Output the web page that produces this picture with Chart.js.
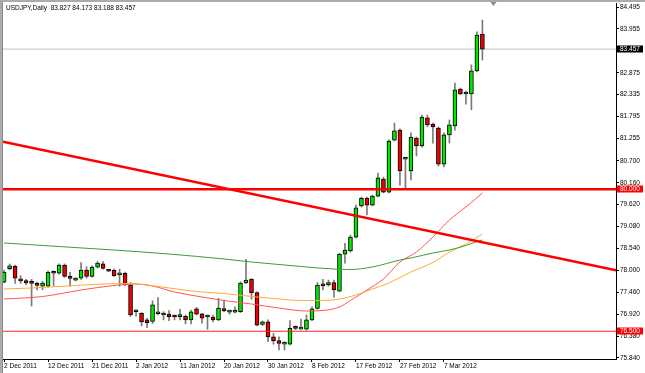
<!DOCTYPE html>
<html>
<head>
<meta charset="utf-8">
<script src="https://cdn.jsdelivr.net/npm/chart.js@4.4.1/dist/chart.umd.min.js"></script>
<style>
  html, body { margin: 0; padding: 0; background: #fff; }
</style>
</head>
<body>
<canvas id="usdjpy" width="645" height="373"></canvas>
<script>
// USDJPY daily candles, index 0 = 2 Dec 2011 (MT4 style, 8 bars between date ticks)
const opens  = [77.71,78.04,78.10,77.79,77.75,77.69,77.69,77.61,77.61,77.95,77.93,78.13,77.86,77.76,77.81,78.01,77.85,78.08,78.16,78.00,
                78.00,77.89,77.93,77.64,76.98,76.94,76.78,76.74,76.93,76.90,76.92,76.87,76.86,76.87,76.78,77.05,76.93,76.85,76.85,76.78,
                77.06,76.97,76.97,76.98,77.69,77.78,77.45,76.67,76.73,76.36,76.27,76.18,76.18,76.60,76.55,76.55,76.78,77.06,77.66,77.64,
                77.70,77.49,78.40,78.48,78.82,79.59,79.78,79.61,79.83,80.25,79.93,81.21,81.46,80.74,80.45,81.26,81.07,81.76,81.61,81.51,
                80.62,81.34,81.56,82.47,82.35,82.35,82.92,83.827];
const highs  = [78.01,78.16,78.13,77.87,77.78,77.78,77.71,77.73,77.99,77.99,78.16,78.16,77.95,77.82,78.19,78.09,78.11,78.22,78.22,78.01,
                78.03,78.03,77.96,77.70,77.03,76.96,76.82,77.25,77.33,76.98,77.01,76.90,77.04,76.90,77.02,77.09,76.94,76.90,76.90,77.31,
                77.27,77.02,77.10,77.72,78.27,77.80,77.47,76.75,76.78,76.45,76.36,76.24,76.76,76.63,76.80,76.90,77.10,77.70,77.78,77.76,
                77.76,78.42,78.67,78.87,79.61,79.81,79.81,79.86,80.40,80.30,81.22,81.63,81.49,80.78,81.39,81.29,81.83,81.83,81.63,81.54,
                81.39,81.71,82.62,82.50,82.42,83.07,83.88,84.173];
const lows   = [77.69,78.01,77.68,77.68,77.64,77.12,77.52,77.52,77.59,77.62,77.91,77.83,77.61,77.74,77.78,77.81,77.83,78.06,78.03,77.97,
                77.85,77.61,77.63,76.86,76.87,76.63,76.59,76.69,76.90,76.78,76.76,76.78,76.78,76.68,76.68,76.90,76.70,76.55,76.73,76.76,
                76.98,76.92,76.95,76.96,77.68,77.29,76.63,76.64,76.24,76.18,76.04,76.04,76.16,76.54,76.55,76.53,76.76,77.04,77.52,77.61,
                77.34,77.47,78.18,78.45,78.80,79.56,79.37,79.59,79.81,79.91,79.91,81.19,80.10,80.01,80.23,80.82,81.04,81.54,81.14,80.57,
                80.55,81.14,81.46,82.33,82.10,81.96,82.90,83.188];
const closes = [77.96,78.11,77.81,77.74,77.69,77.68,77.63,77.69,77.95,77.93,78.13,77.85,77.80,77.80,78.01,77.85,78.08,78.18,78.05,77.98,
                77.87,77.94,77.64,76.90,77.00,76.73,76.71,77.15,76.96,76.94,76.86,76.85,76.87,76.78,76.98,76.92,76.82,76.86,76.78,77.07,
                77.00,76.98,77.01,77.69,77.76,77.45,76.65,76.73,76.36,76.27,76.20,76.19,76.57,76.57,76.58,76.78,77.05,77.64,77.62,77.70,
                77.52,78.40,78.50,78.82,79.54,79.78,79.61,79.83,80.28,79.93,81.19,81.44,80.45,80.76,81.29,81.07,81.78,81.59,81.54,80.62,
                81.34,81.59,82.45,82.35,82.36,82.92,83.80,83.457];

// moving averages (bar index -> price)
const maGreenIdx  = [0,10,20,30,40,45,50,55,60,63,67,72,74,78,81,84,86,87];
const maGreenVal  = [78.675,78.589,78.502,78.404,78.281,78.207,78.145,78.084,78.034,78.022,78.084,78.256,78.306,78.429,78.503,78.614,78.712,78.749];
const maOrangeIdx = [0,5,10,16,22,26,30,36,40,45,50,54,58,61,64,67,70,74,78,81,84,87];
const maOrangeVal = [77.541,77.566,77.603,77.652,77.677,77.640,77.566,77.467,77.430,77.356,77.294,77.257,77.257,77.294,77.393,77.541,77.689,77.960,78.195,78.453,78.650,78.897];
const maRedIdx    = [0,7,14,20,24,27,31,36,40,45,50,55,58,61,63,66,69,72,75,78,81,84,87];
const maRedVal    = [77.294,77.356,77.516,77.627,77.664,77.615,77.467,77.344,77.257,77.171,77.072,76.998,77.011,77.097,77.257,77.516,77.788,78.207,78.453,78.823,79.243,79.563,79.908];

// horizontal levels, trend line and last bid
const levelHigh = 80.000;
const levelLow = 76.500;
const bidPrice = 83.457;
const trendIdx = [-0.2, 111.3];
const trendVal = [81.17, 78.00];

// axes
const xMin = -0.2, xMax = 111.3;
const yMin = 75.815, yMax = 84.594;
const xTickIdx = [0, 8, 16, 24, 32, 40, 48, 56, 64, 72, 80];
const xTickLabels = ['2 Dec 2011', '12 Dec 2011', '21 Dec 2011', '2 Jan 2012', '11 Jan 2012', '20 Jan 2012',
                     '30 Jan 2012', '8 Feb 2012', '17 Feb 2012', '27 Feb 2012', '7 Mar 2012'];
const yTickVals = [84.495, 83.955, 82.875, 82.335, 81.795, 81.255, 80.700, 80.160, 79.620, 79.080, 78.540, 78.000, 77.460, 76.920, 76.380, 75.840];
const shiftMarkIdx = 89;
const titleText = 'USDJPY,Daily  83.827 84.173 83.188 83.457';

const FONT = { family: "'Liberation Sans', Arial, sans-serif", size: 6.5 };

const pts = (xs, ys) => xs.map((x, i) => ({ x: x, y: ys[i] }));

const wickData = opens.map((o, i) => ({ x: i, y: [lows[i], highs[i]] }));
const bodyData = opens.map((o, i) => ({ x: i, y: [o, closes[i]] }));
const bodyColors = opens.map((o, i) => closes[i] >= o ? '#00e600' : '#ee0000');

const mtDecor = {
  id: 'mtDecor',
  beforeDraw(chart) {
    const ctx = chart.ctx;
    ctx.save();
    ctx.fillStyle = '#fff';
    ctx.fillRect(0, 0, chart.width, chart.height);
    ctx.fillStyle = '#ababab';
    ctx.fillRect(0, 0, chart.width, 2);
    ctx.fillRect(0, 0, 2, chart.height);
    ctx.fillStyle = '#8a8a8a';
    ctx.fillRect(2, 2, 1, chart.height - 2);
    ctx.restore();
  },
  afterDraw(chart) {
    const ctx = chart.ctx;
    const ys = chart.scales.y, xs = chart.scales.x;
    ctx.save();
    ctx.font = FONT.size + 'px ' + FONT.family;
    ctx.textBaseline = 'middle';
    ctx.fillStyle = '#000';
    ctx.fillText(titleText, 6, 8.5);

    [[bidPrice, '#000000'], [levelHigh, '#ff0000'], [levelLow, '#ff0000']].forEach(function (b) {
      const py = Math.round(ys.getPixelForValue(b[0]));
      ctx.fillStyle = b[1];
      ctx.fillRect(617, py - 3.5, 26, 7);
      ctx.fillStyle = '#fff';
      ctx.fillText(b[0].toFixed(3), 620, py + 0.5);
    });

    const mx = xs.getPixelForValue(shiftMarkIdx);
    ctx.fillStyle = '#8c8c8c';
    ctx.beginPath();
    ctx.moveTo(mx - 3, 2);
    ctx.lineTo(mx + 3, 2);
    ctx.lineTo(mx, 6);
    ctx.closePath();
    ctx.fill();
    ctx.restore();
  }
};

new Chart(document.getElementById('usdjpy'), {
  type: 'bar',
  data: {
    datasets: [
      { type: 'line', data: pts([xMin, xMax], [levelHigh, levelHigh]), borderColor: '#ff0000', borderWidth: 2.5, pointRadius: 0, order: 0 },
      { type: 'line', data: pts([xMin, xMax], [levelLow, levelLow]), borderColor: '#ff2020', borderWidth: 1, pointRadius: 0, order: 0 },
      { type: 'line', data: pts(trendIdx, trendVal), borderColor: '#ff0000', borderWidth: 2.5, pointRadius: 0, order: 0 },
      { type: 'line', data: pts([xMin, xMax], [bidPrice, bidPrice]), borderColor: '#c0c0c0', borderWidth: 1, pointRadius: 0, order: 5 },
      { type: 'line', data: pts(maGreenIdx, maGreenVal), borderColor: '#3d9d3d', borderWidth: 1, pointRadius: 0, cubicInterpolationMode: 'monotone', order: 1 },
      { type: 'line', data: pts(maOrangeIdx, maOrangeVal), borderColor: '#ffaa33', borderWidth: 1, pointRadius: 0, cubicInterpolationMode: 'monotone', order: 1 },
      { type: 'line', data: pts(maRedIdx, maRedVal), borderColor: '#ff5555', borderWidth: 1, pointRadius: 0, cubicInterpolationMode: 'monotone', order: 1 },
      { data: bodyData, backgroundColor: bodyColors, borderColor: '#000', borderWidth: 1, borderSkipped: false,
        barThickness: 4, minBarLength: 2, grouped: false, order: 2 },
      { data: wickData, backgroundColor: '#7a7a7a', borderWidth: 0, barThickness: 1, grouped: false, order: 3 }
    ]
  },
  options: {
    responsive: false,
    devicePixelRatio: 1,
    animation: false,
    layout: { padding: { left: 3, top: 3, right: 0, bottom: 0 } },
    plugins: { legend: { display: false }, tooltip: { enabled: false } },
    scales: {
      x: {
        type: 'linear',
        min: xMin,
        max: xMax,
        offset: false,
        afterBuildTicks: function (axis) { axis.ticks = xTickIdx.map(v => ({ value: v })); },
        afterFit: function (axis) { axis.height = 14; axis.paddingLeft = 0; axis.paddingRight = 0; },
        grid: { drawOnChartArea: false, drawTicks: true, tickLength: 3, tickColor: '#000', offset: false },
        border: { color: '#000', width: 1 },
        ticks: {
          autoSkip: false, maxRotation: 0, align: 'start', padding: 0, color: '#000', font: FONT,
          callback: function (v) { return xTickLabels[xTickIdx.indexOf(v)]; }
        }
      },
      y: {
        type: 'linear',
        position: 'right',
        min: yMin,
        max: yMax,
        afterBuildTicks: function (axis) { axis.ticks = yTickVals.map(v => ({ value: v })); },
        afterFit: function (axis) { axis.width = 29; axis.paddingTop = 0; axis.paddingBottom = 0; },
        grid: { drawOnChartArea: false, drawTicks: true, tickLength: 3, tickColor: '#000' },
        border: { color: '#000', width: 1 },
        ticks: {
          autoSkip: false, padding: 1, color: '#000', font: FONT,
          callback: function (v) { return v.toFixed(3); }
        }
      }
    }
  },
  plugins: [mtDecor]
});
</script>
</body>
</html>
